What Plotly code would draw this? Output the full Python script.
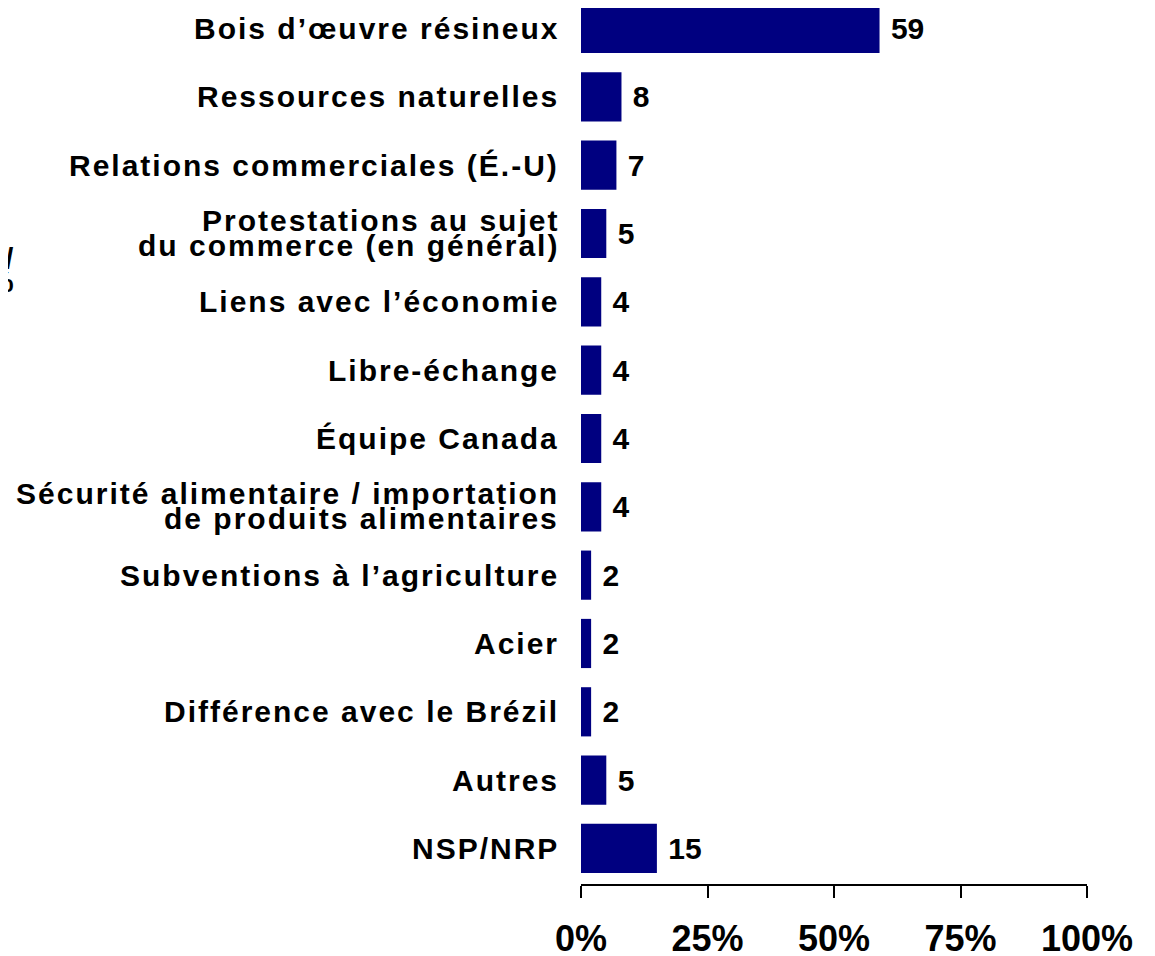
import plotly.graph_objects as go

categories = [
    "Bois d’œuvre résineux",
    "Ressources naturelles",
    "Relations commerciales (É.-U)",
    "Protestations au sujet<br>du commerce (en général)",
    "Liens avec l’économie",
    "Libre-échange",
    "Équipe Canada",
    "Sécurité alimentaire / importation<br>de produits alimentaires",
    "Subventions à l’agriculture",
    "Acier",
    "Différence avec le Brézil",
    "Autres",
    "NSP/NRP",
]
values = [59, 8, 7, 5, 4, 4, 4, 4, 2, 2, 2, 5, 15]
tick_vals = [0, 25, 50, 75, 100]
tick_text = ["0%", "25%", "50%", "75%", "100%"]

font_bold = "Liberation Sans, Arial, sans-serif"
label_font = dict(family=font_bold, size=30, color="black", weight="bold")

fig = go.Figure(
    go.Bar(
        x=values,
        y=categories,
        orientation="h",
        marker=dict(color="#000080", line=dict(width=0)),
        text=[" " + str(v) for v in values],
        textposition="outside",
        textfont=label_font,
        cliponaxis=False,
        width=0.72,
    )
)

# category labels: drawn as annotations so the two-line ones keep tight line spacing
for cat in categories:
    lines = cat.split("<br>")
    shifts = [0] if len(lines) == 1 else [13, -12]
    for line, dy in zip(lines, shifts):
        fig.add_annotation(
            text='<span style="letter-spacing:2px">' + line + "</span>",
            xref="paper", yref="y", x=0, y=cat,
            xshift=-20, yshift=dy, xanchor="right", yanchor="middle",
            showarrow=False, font=label_font,
        )

# clipped axis title at the far left edge
for txt, ypos in [("/", 0.7146), ("%", 0.688)]:
    fig.add_annotation(
        text=txt, xref="paper", yref="paper", x=0, y=ypos,
        xshift=-565, showarrow=False, xanchor="right", yanchor="middle",
        font=label_font,
    )

fig.update_layout(
    width=1147,
    height=948,
    margin=dict(l=573, r=68, t=0, b=72),
    paper_bgcolor="white",
    plot_bgcolor="white",
    showlegend=False,
    xaxis=dict(
        range=[0, 100],
        tickvals=tick_vals,
        ticktext=tick_text,
        showgrid=False,
        zeroline=False,
        showline=True,
        linecolor="black",
        linewidth=2,
        ticks="outside",
        ticklen=12,
        tickwidth=2,
        tickcolor="black",
        ticklabelstandoff=10,
        automargin=False,
        tickfont=dict(family=font_bold, size=36, color="black", weight="bold"),
    ),
    yaxis=dict(
        categoryorder="array",
        categoryarray=categories,
        range=[12.52, -0.30],
        showgrid=False,
        zeroline=False,
        showline=False,
        showticklabels=False,
        ticks="",
        automargin=False,
    ),
)

fig.write_html("out.html")
